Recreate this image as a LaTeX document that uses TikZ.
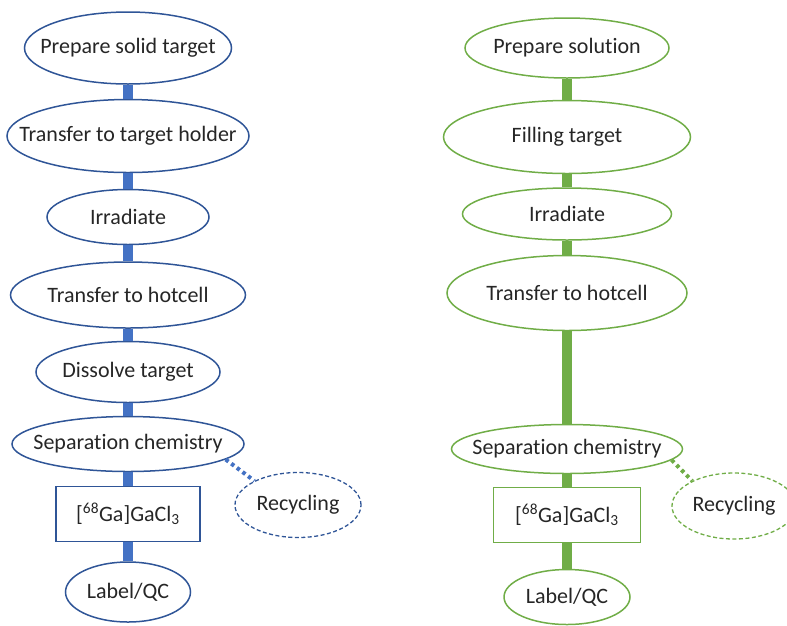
\documentclass[tikz,border=0pt]{standalone}
\usepackage{fontspec}
\setmainfont{Carlito}[Ligatures=NoCommon]
\usetikzlibrary{shapes.geometric}
\definecolor{bline}{HTML}{2F5597}
\definecolor{bfill}{HTML}{4472C4}
\definecolor{gline}{HTML}{70AD47}
\definecolor{txt}{HTML}{262626}
\begin{document}
\begin{tikzpicture}[x=1pt,y=-1pt,
  every node/.style={font=\fontsize{22}{24}\selectfont, text=txt, inner sep=0pt},
  bell/.style={ellipse, draw=bline, line width=1.5pt, label={center:#1}},
  gell/.style={ellipse, draw=gline, line width=1.5pt, label={center:#1}},
  bbox/.style={rectangle, draw=bline, line width=1.5pt},
  gbox/.style={rectangle, draw=gline, line width=1.5pt},
  blink/.style={draw=bfill, line width=10pt},
  glink/.style={draw=gline, line width=10pt},
  bdot/.style={draw=bfill, line width=4pt, dash pattern=on 3.5pt off 3.5pt},
  gdot/.style={draw=gline, line width=4pt, dash pattern=on 3.5pt off 3.5pt},
  brec/.style={ellipse, draw=bline, line width=1.3pt, dash pattern=on 4pt off 2.5pt, label={center:#1}},
  grec/.style={ellipse, draw=gline, line width=1.3pt, dash pattern=on 4pt off 2.5pt, label={center:#1}}]
\useasboundingbox (0,0) rectangle (787,625);
\begin{scope}
\clip (0,0) rectangle (787,625);
% left column
\node[bell={Prepare solid target}, minimum width=207pt, minimum height=72pt] (a1) at (128,48) {};
\node[bell={Transfer to target holder}, minimum width=242pt, minimum height=73pt] (a2) at (128,136) {};
\node[bell={Irradiate}, minimum width=162pt, minimum height=55pt] (a3) at (128,217) {};
\node[bell={Transfer to hotcell}, minimum width=235pt, minimum height=66pt] (a4) at (128,295) {};
\node[bell={Dissolve target}, minimum width=184pt, minimum height=61pt] (a5) at (128,372) {};
\node[bell={Separation chemistry}, minimum width=232pt, minimum height=55pt] (a6) at (128,444) {};
\node[bbox, minimum width=144pt, minimum height=55pt] (a7) at (128,514) {[\textsuperscript{68}Ga]GaCl\textsubscript{3}};
\node[bell={Label/QC}, minimum width=125pt, minimum height=60pt] (a8) at (128,592) {};
\node[brec={Recycling}, minimum width=126pt, minimum height=65pt] (ar) at (298,505) {};
% right column
\node[gell={Prepare solution}, minimum width=204pt, minimum height=60pt] (b1) at (567,48) {};
\node[gell={Filling target}, minimum width=247pt, minimum height=73pt] (b2) at (567,137) {};
\node[gell={Irradiate}, minimum width=209pt, minimum height=52pt] (b3) at (567,214) {};
\node[gell={Transfer to hotcell}, minimum width=240pt, minimum height=75pt] (b4) at (567,293) {};
\node[gell={Separation chemistry}, minimum width=231pt, minimum height=49pt] (b6) at (567,449) {};
\node[gbox, minimum width=147pt, minimum height=55pt] (b7) at (567,515) {[\textsuperscript{68}Ga]GaCl\textsubscript{3}};
\node[gell={Label/QC}, minimum width=126pt, minimum height=55pt] (b8) at (567,597) {};
\node[grec={Recycling}, minimum width=124pt, minimum height=66pt] (br) at (734,506) {};
\end{scope}
% connectors left
\draw[blink] (a1.south) -- (a2.north);
\draw[blink] (a2.south) -- (a3.north);
\draw[blink] (a3.south) -- (a4.north);
\draw[blink] (a4.south) -- (a5.north);
\draw[blink] (a5.south) -- (a6.north);
\draw[blink] (a6.south) -- (a7.north);
\draw[blink] (a7.south) -- (a8.north);
\draw[bdot] (a6.-9) -- (ar.151);
% connectors right
\draw[glink] (b1.south) -- (b2.north);
\draw[glink] (b2.south) -- (b3.north);
\draw[glink] (b3.south) -- (b4.north);
\draw[glink] (b4.south) -- (b6.north);
\draw[glink] (b6.south) -- (b7.north);
\draw[glink] (b7.south) -- (b8.north);
\draw[gdot] (b6.-6) -- (br.149);
\end{tikzpicture}
\end{document}
